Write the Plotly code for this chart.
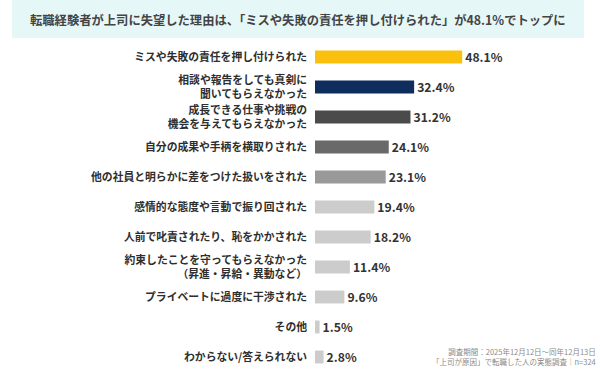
import plotly.graph_objects as go

categories = [
    "ミスや失敗の責任を押し付けられた",
    "相談や報告をしても真剣に<br>聞いてもらえなかった",
    "成長できる仕事や挑戦の<br>機会を与えてもらえなかった",
    "自分の成果や手柄を横取りされた",
    "他の社員と明らかに差をつけた扱いをされた",
    "感情的な態度や言動で振り回された",
    "人前で叱責されたり、恥をかかされた",
    "約束したことを守ってもらえなかった<br>（昇進・昇給・異動など）",
    "プライベートに過度に干渉された",
    "その他",
    "わからない/答えられない",
]
values = [48.1, 32.4, 31.2, 24.1, 23.1, 19.4, 18.2, 11.4, 9.6, 1.5, 2.8]
colors = ["#F9C10E", "#0E2C5C", "#4B4B4B", "#696969", "#999999",
          "#CCCCCC", "#CCCCCC", "#CCCCCC", "#CCCCCC", "#CCCCCC", "#CCCCCC"]

title_text = "転職経験者が上司に失望した理由は、「ミスや失敗の責任を押し付けられた」が48.1%でトップに"
note_lines = ["調査期間：2025年12月12日～同年12月13日",
              "「上司が原因」で転職した人の実態調査｜n=324"]

W, H = 600, 384
L, R, T, B = 315, 5, 42, 12
pw = W - L - R
ph = H - T - B

FONT = "Noto Sans CJK JP"

fig = go.Figure()
fig.add_trace(go.Bar(
    x=values, y=categories, orientation="h",
    marker=dict(color=colors, line=dict(width=0)),
    width=0.43,
    text=[f"{v:.1f}%" for v in values],
    textposition="outside",
    constraintext="none",
    textfont=dict(family=FONT, size=12.2, color="#333333", weight="bold"),
    cliponaxis=False,
    hoverinfo="skip",
))

def px_x(p):
    return (p - L) / pw

def px_y(p):
    return 1 - (p - T) / ph

annotations = [
    dict(x=px_x(298), y=px_y(20), xref="paper", yref="paper", text=title_text,
         showarrow=False, xanchor="center", yanchor="middle",
         font=dict(family=FONT, size=12.3, color="#444444", weight="bold")),
    dict(x=px_x(598), y=px_y(369), xref="paper", yref="paper",
         text="<br>".join(note_lines), showarrow=False,
         xanchor="right", yanchor="bottom", align="right",
         font=dict(family=FONT, size=7.5, color="#8a8a8a")),
]

fig.update_layout(
    width=W, height=H,
    margin=dict(l=L, r=R, t=T, b=B),
    paper_bgcolor="white", plot_bgcolor="white",
    showlegend=False,
    xaxis=dict(range=[0, pw / 3.06], visible=False, fixedrange=True),
    yaxis=dict(autorange="reversed", showticklabels=True, showgrid=False,
               zeroline=False, showline=False, ticks="", fixedrange=True,
               ticklabelstandoff=7,
               tickfont=dict(family=FONT, size=10.8, color="#2e2e2e", weight="bold")),
    annotations=annotations,
    shapes=[dict(type="rect", xref="paper", yref="paper",
                 x0=px_x(12), x1=px_x(584), y0=px_y(38), y1=px_y(0),
                 fillcolor="#E6F7F8", line=dict(width=0), layer="below")],
)

fig.write_html("out.html", config={"displayModeBar": False},
               post_script="document.body.style.margin='0';")
